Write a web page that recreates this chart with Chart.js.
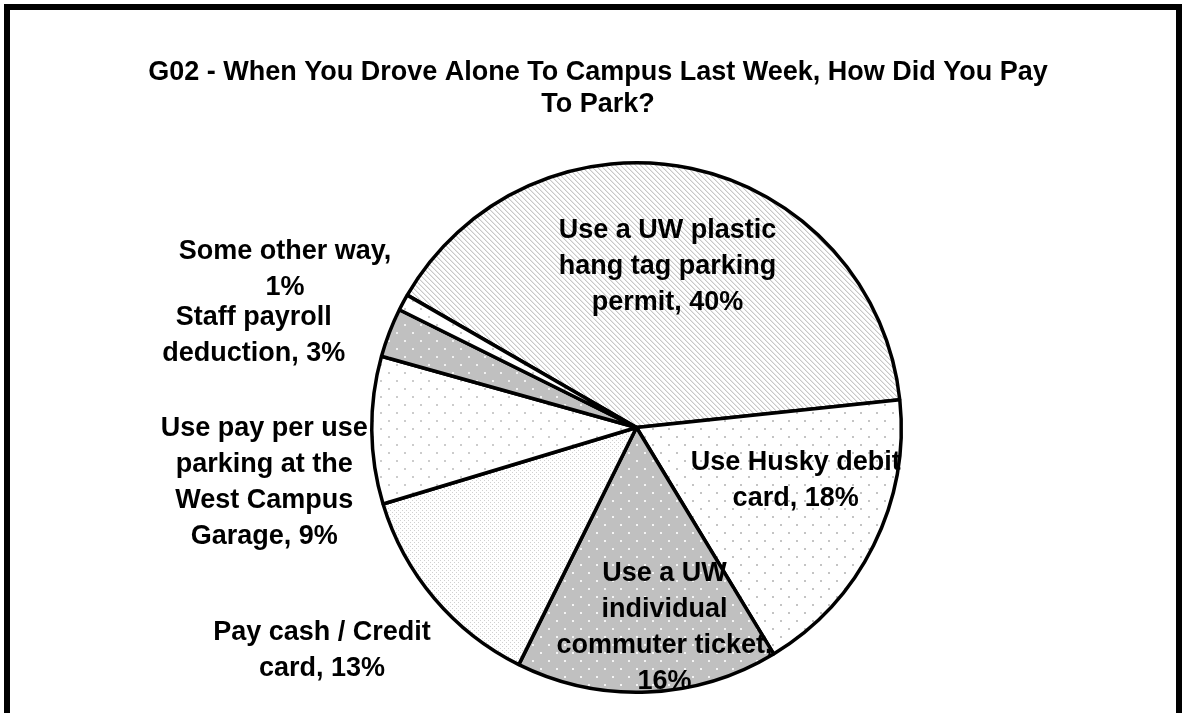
<!DOCTYPE html>
<html>
<head>
<meta charset="utf-8">
<script src="https://cdn.jsdelivr.net/npm/chart.js@4.4.1/dist/chart.umd.min.js"></script>
<style>
  html,body{margin:0;padding:0;background:#fff;overflow:hidden;}
  #wrap{position:relative;width:1185px;height:713px;}
  #frame{position:absolute;left:4px;top:4px;width:1166px;height:760px;border:6px solid #000;pointer-events:none;}
  canvas{position:absolute;left:0;top:0;}
</style>
</head>
<body>
<div id="wrap">
  <canvas id="pie" width="1185" height="713"></canvas>
  <div id="frame"></div>
</div>
<script>
const titleLines = ["G02 - When You Drove Alone To Campus Last Week, How Did You Pay", "To Park?"];

// clockwise from the 40% slice
const categories = [
  "Use a UW plastic hang tag parking permit",
  "Use Husky debit card",
  "Use a UW individual commuter ticket",
  "Pay cash / Credit card",
  "Use pay per use parking at the West Campus Garage",
  "Staff payroll deduction",
  "Some other way"
];
const percents = [40, 18, 16, 13, 9, 3, 1];

// label layout: words per line, radius factor, angle nudge (deg)
const wordsPerLine = [[4,3,2],[3,2],[3,1,2,1],[4,2],[4,3,2,2],[2,2],[3,1]];
const labelRad  = [0.63, 0.63, 0.75, 1.45, 1.42, 1.49, 1.46];
const labelNudge = [-1.3, -9, -5.7, 5.2, -7.4, -7, -3.6];

const FONT = "Liberation Sans, Arial, sans-serif";

function tile(size, bg, dots, dotColor, ds){
  const c = document.createElement("canvas");
  c.width = c.height = size;
  const g = c.getContext("2d");
  g.fillStyle = bg; g.fillRect(0,0,size,size);
  g.fillStyle = dotColor;
  dots.forEach(([x,y])=>g.fillRect(x,y,ds,ds));
  return c;
}
function stripes(){
  const n = 5;
  const c = document.createElement("canvas");
  c.width = c.height = n;
  const g = c.getContext("2d");
  g.fillStyle="#fff"; g.fillRect(0,0,n,n);
  for(let y=0;y<n;y++) for(let x=0;x<n;x++){
    const k=((x-y)%n+n)%n;
    if(k===0){g.fillStyle="#c8c8c8";g.fillRect(x,y,1,1);}
    else if(k===1){g.fillStyle="#e8e8e8";g.fillRect(x,y,1,1);}
  }
  return c;
}

const ctx0 = document.getElementById("pie").getContext("2d");
const pat = p => ctx0.createPattern(p, "repeat");
const stagger = [[4,4],[12,12]];
const fills = [
  pat(stripes()),
  pat(tile(16, "#fff", stagger, "#c4c4c4", 2)),
  pat(tile(16, "#c0c0c0", stagger, "#f4f4f4", 2)),
  pat(tile(4, "#fff", [[0,0],[2,2]], "#d0d0d0", 1)),
  pat(tile(16, "#fff", stagger, "#cccccc", 2)),
  pat(tile(16, "#c0c0c0", stagger, "#f0f0f0", 2)),
  pat(tile(16, "#fff", stagger, "#cccccc", 2))
];

const labelPlugin = {
  id: "pieLabels",
  afterDatasetsDraw(chart){
    const ctx = chart.ctx;
    const arcs = chart.getDatasetMeta(0).data;
    ctx.save();
    ctx.fillStyle = "#000";
    ctx.textAlign = "center";
    ctx.textBaseline = "middle";
    ctx.font = "bold 27px " + FONT;
    // title
    titleLines.forEach((t,i)=>ctx.fillText(t, 598, 73 + i*32));
    arcs.forEach((arc,i)=>{
      const p = arc.getProps(["x","y","startAngle","endAngle","outerRadius"], true);
      const a = (p.startAngle + p.endAngle)/2 + labelNudge[i]*Math.PI/180;
      const r = p.outerRadius * labelRad[i];
      const cx = p.x + Math.cos(a)*r, cy = p.y + Math.sin(a)*r + 3;
      const words = (categories[i] + ", " + percents[i] + "%").split(" ");
      const lines = [];
      let k = 0;
      wordsPerLine[i].forEach(n=>{ lines.push(words.slice(k,k+n).join(" ")); k+=n; });
      const lh = 36;
      lines.forEach((ln,j)=>ctx.fillText(ln, cx, cy + (j-(lines.length-1)/2)*lh));
    });
    ctx.restore();
  }
};

new Chart(ctx0, {
  type: "pie",
  data: {
    labels: categories,
    datasets: [{
      data: percents,
      backgroundColor: fills,
      borderColor: "#000",
      borderWidth: 3.5
    }]
  },
  options: {
    responsive: false,
    animation: false,
    rotation: -60,
    layout: { padding: { left: 370, right: 282, top: 161, bottom: 19 } },
    plugins: { legend: { display: false }, tooltip: { enabled: false }, title: { display: false } },
    events: []
  },
  plugins: [labelPlugin]
});
</script>
</body>
</html>
